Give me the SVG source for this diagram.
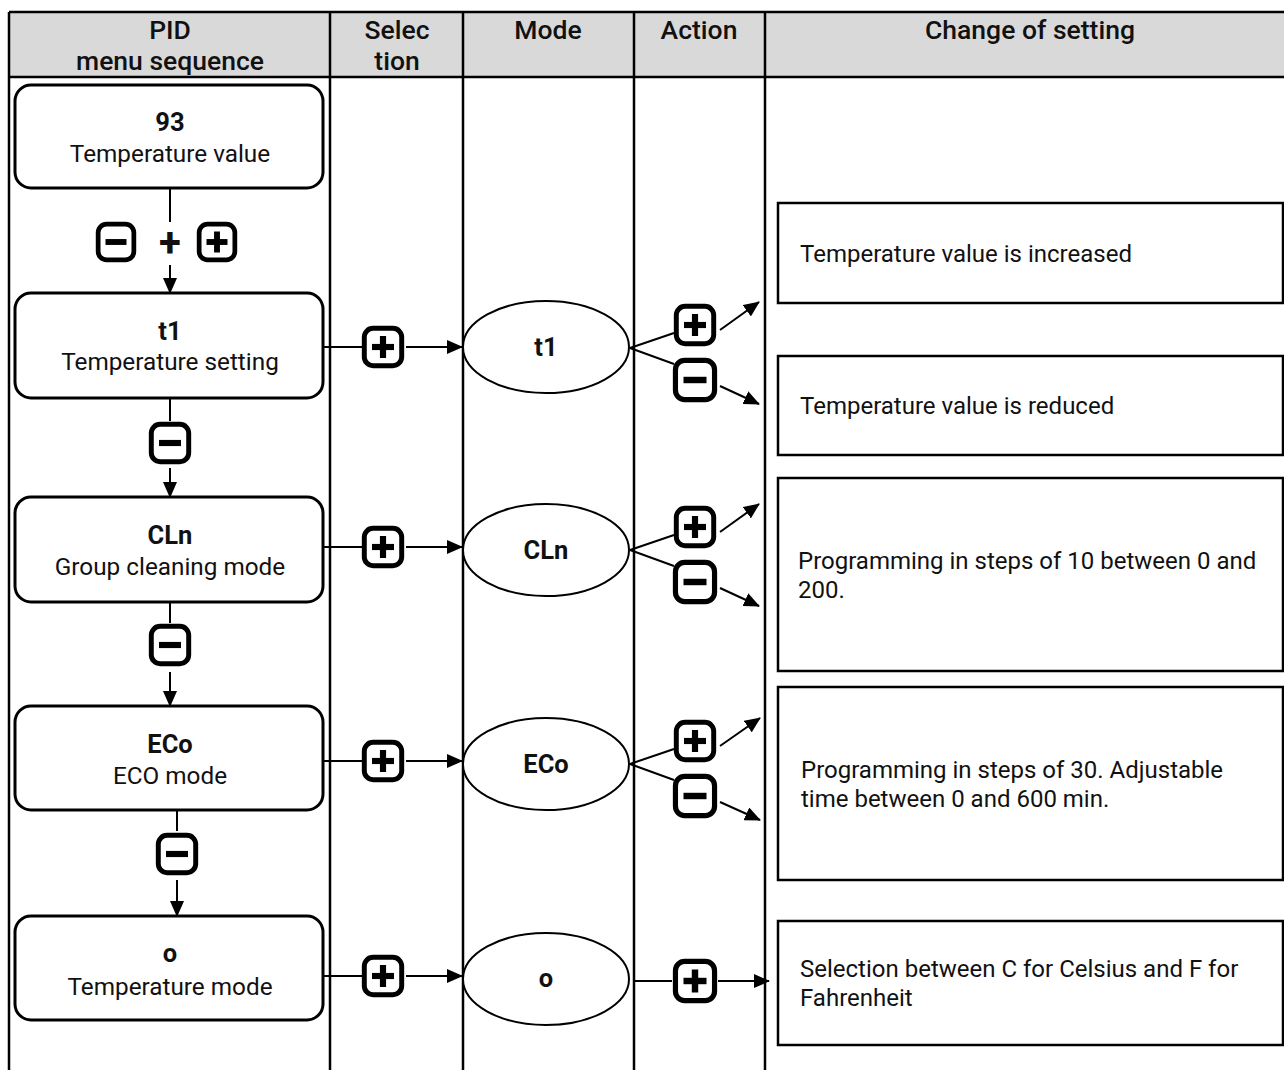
<svg xmlns="http://www.w3.org/2000/svg" width="1284" height="1070" viewBox="0 0 1284 1070">
<style>
.hd{font-family:Roboto,"Liberation Sans",sans-serif;font-size:26.5px;font-weight:500;fill:#111;text-anchor:middle}
.tt{font-family:Roboto,"Liberation Sans",sans-serif;font-size:25.5px;font-weight:bold;fill:#111;text-anchor:middle}
.st{font-family:Roboto,"Liberation Sans",sans-serif;font-size:24.3px;fill:#111;text-anchor:middle}
.bx{font-family:Roboto,"Liberation Sans",sans-serif;font-size:24px;fill:#111}
.node{fill:#fff;stroke:#000;stroke-width:3}
.ell{fill:#fff;stroke:#000;stroke-width:2}
.box{fill:#fff;stroke:#000;stroke-width:2.5}
.grid{stroke:#000;stroke-width:2.5;fill:none}
.con{stroke:#000;stroke-width:2;fill:none}
.arr{stroke:#000;stroke-width:2;fill:none;marker-end:url(#ah)}
</style>
<defs>
<marker id="ah" viewBox="0 0 16 14" refX="15" refY="7" markerWidth="16" markerHeight="14" markerUnits="userSpaceOnUse" orient="auto">
<path d="M0,0 L16,7 L0,14 z" fill="#000"/>
</marker>
<symbol id="iplus" viewBox="0 0 40 40">
<rect x="3" y="3" width="34" height="34" rx="8" fill="#fff" stroke="#000" stroke-width="4.5"/>
<rect x="10" y="17.2" width="20" height="5.6" fill="#000"/>
<rect x="17.2" y="10" width="5.6" height="20" fill="#000"/>
</symbol>
<symbol id="iminus" viewBox="0 0 40 40">
<rect x="3" y="3" width="34" height="34" rx="8" fill="#fff" stroke="#000" stroke-width="4.5"/>
<rect x="10" y="17.2" width="20" height="5.6" fill="#000"/>
</symbol>
</defs>
<rect width="1284" height="1070" fill="#fff"/>
<g id="table">
<rect x="9" y="12" width="1290" height="65" fill="#d9d9d9"/>
<path class="grid" d="M9,12 H1284 M9,77 H1284 M9,12 V1070 M330,12 V1070 M463,12 V1070 M634,12 V1070 M765,12 V1070"/>
<text class="hd" x="170" y="39">PID</text>
<text class="hd" x="170" y="70">menu sequence</text>
<text class="hd" x="397" y="39">Selec</text>
<text class="hd" x="397" y="70">tion</text>
<text class="hd" x="548" y="39">Mode</text>
<text class="hd" x="699" y="39">Action</text>
<text class="hd" x="1030" y="39">Change of setting</text>
</g>
<g id="connectors">
<path class="con" d="M170,188 V222"/>
<use href="#iminus" x="95" y="221" width="42" height="42"/>
<text class="tt" x="170" y="256" style="font-size:40px">+</text>
<use href="#iplus" x="196" y="221" width="42" height="42"/>
<path class="arr" d="M170,265 V293"/>
<path class="con" d="M170,398 V421"/>
<use href="#iminus" x="148" y="421" width="44" height="44"/>
<path class="arr" d="M170,468 V497"/>
<path class="con" d="M170,602 V623"/>
<use href="#iminus" x="148" y="623" width="44" height="44"/>
<path class="arr" d="M170,672 V706"/>
<path class="con" d="M177,810 V831"/>
<use href="#iminus" x="155" y="831" width="44" height="46"/>
<path class="arr" d="M177,880 V916"/>
<path class="con" d="M323,347 H362"/>
<use href="#iplus" x="361" y="325" width="44" height="44"/>
<path class="arr" d="M406,347 H462"/>
<path class="con" d="M323,547 H362"/>
<use href="#iplus" x="361" y="525" width="44" height="44"/>
<path class="arr" d="M406,547 H462"/>
<path class="con" d="M323,761 H362"/>
<use href="#iplus" x="361" y="739" width="44" height="44"/>
<path class="arr" d="M406,761 H462"/>
<path class="con" d="M323,976 H362"/>
<use href="#iplus" x="361" y="954" width="44" height="44"/>
<path class="arr" d="M406,976 H462"/>
<path class="con" d="M630,348 L674,333 M630,348 L674,364"/>
<use href="#iplus" x="672" y="303" width="46" height="44"/>
<use href="#iminus" x="672" y="357" width="46" height="46"/>
<path class="arr" d="M720,330 L759,302"/>
<path class="arr" d="M720,386 L759,404"/>
<path class="con" d="M630,550 L674,535 M630,550 L674,566"/>
<use href="#iplus" x="672" y="505" width="46" height="44"/>
<use href="#iminus" x="672" y="559" width="46" height="46"/>
<path class="arr" d="M720,532 L759,504"/>
<path class="arr" d="M720,588 L759,606"/>
<path class="con" d="M630,764 L674,749 M630,764 L674,780"/>
<use href="#iplus" x="672" y="719" width="46" height="44"/>
<use href="#iminus" x="672" y="773" width="46" height="46"/>
<path class="arr" d="M720,746 L760,718"/>
<path class="arr" d="M720,802 L760,820"/>
<path class="con" d="M634,981 H672"/>
<use href="#iplus" x="672" y="958" width="46" height="46"/>
<path class="arr" d="M718,981 H769"/>
</g>
<g id="n93">
<rect class="node" x="15" y="85" width="308" height="103" rx="16"/>
<text class="tt" x="170" y="131">93</text>
<text class="st" x="170" y="162">Temperature value</text>
</g>
<g id="nt1">
<rect class="node" x="15" y="293" width="308" height="105" rx="16"/>
<text class="tt" x="170" y="340">t1</text>
<text class="st" x="170" y="370">Temperature setting</text>
</g>
<g id="nCLn">
<rect class="node" x="15" y="497" width="308" height="105" rx="16"/>
<text class="tt" x="170" y="544">CLn</text>
<text class="st" x="170" y="575">Group cleaning mode</text>
</g>
<g id="nECo">
<rect class="node" x="15" y="706" width="308" height="104" rx="16"/>
<text class="tt" x="170" y="753">ECo</text>
<text class="st" x="170" y="784">ECO mode</text>
</g>
<g id="no">
<rect class="node" x="15" y="916" width="308" height="104" rx="16"/>
<text class="tt" x="170" y="962">o</text>
<text class="st" x="170" y="995">Temperature mode</text>
</g>
<g id="et1">
<ellipse class="ell" cx="546" cy="347" rx="83" ry="46"/>
<text class="tt" x="546" y="356">t1</text>
</g>
<g id="eCLn">
<ellipse class="ell" cx="546" cy="550" rx="83" ry="46"/>
<text class="tt" x="546" y="559">CLn</text>
</g>
<g id="eECo">
<ellipse class="ell" cx="546" cy="764" rx="83" ry="46"/>
<text class="tt" x="546" y="773">ECo</text>
</g>
<g id="eo">
<ellipse class="ell" cx="546" cy="979" rx="83" ry="46"/>
<text class="tt" x="546" y="987">o</text>
</g>
<g id="b1">
<rect class="box" x="778" y="203" width="505" height="100"/>
<text class="bx" x="800" y="262">Temperature value is increased</text>
</g>
<g id="b2">
<rect class="box" x="778" y="356" width="505" height="99"/>
<text class="bx" x="800" y="414">Temperature value is reduced</text>
</g>
<g id="b3">
<rect class="box" x="778" y="478" width="505" height="193"/>
<text class="bx" x="798" y="569">Programming in steps of 10 between 0 and</text>
<text class="bx" x="798" y="598">200.</text>
</g>
<g id="b4">
<rect class="box" x="778" y="687" width="505" height="193"/>
<text class="bx" x="801" y="778">Programming in steps of 30. Adjustable</text>
<text class="bx" x="801" y="807">time between 0 and 600 min.</text>
</g>
<g id="b5">
<rect class="box" x="778" y="921" width="505" height="124"/>
<text class="bx" x="800" y="977">Selection between C for Celsius and F for</text>
<text class="bx" x="800" y="1006">Fahrenheit</text>
</g>
</svg>
